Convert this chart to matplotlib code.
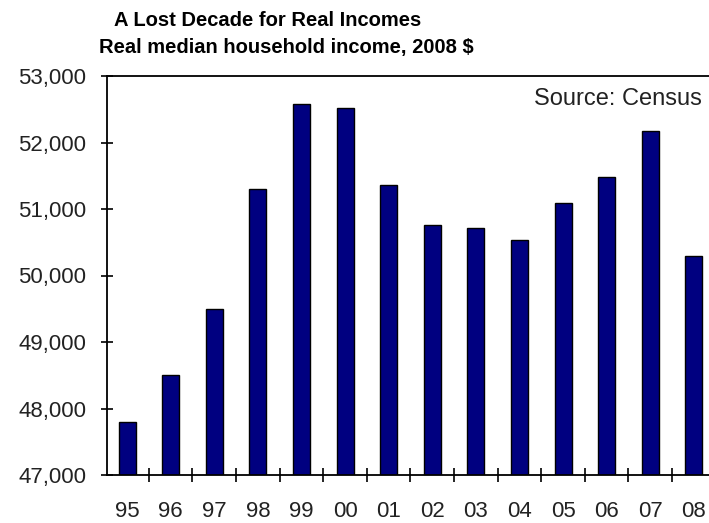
import numpy as np
import matplotlib
matplotlib.use("Agg")
import matplotlib.pyplot as plt
from matplotlib.ticker import FuncFormatter

years = ['95', '96', '97', '98', '99', '00', '01', '02', '03', '04', '05', '06', '07', '08']
income = [47800, 48500, 49500, 51300, 52580, 52520, 51360, 50760, 50710, 50540, 51090, 51480, 52180, 50300]
yticks = [47000, 48000, 49000, 50000, 51000, 52000, 53000]

W, H = 709, 523
fig = plt.figure(figsize=(W / 100, H / 100), dpi=100)
# plot area runs off the right edge in the original
ax = fig.add_axes([107 / W, 1 - 475 / H, 608.7 / W, (475 - 76) / H])

x = np.arange(len(years))
ax.bar(x, income, width=0.39, color='#000080', edgecolor='black', linewidth=1.0)

ax.set_xlim(-0.46, 13.5)
ax.set_ylim(47000, 53000)
ax.set_yticks(yticks)
ax.yaxis.set_major_formatter(FuncFormatter(lambda v, p: f'{int(v):,}'))
ax.set_xticks(x)
ax.set_xticklabels(years)
ax.set_xticks(np.arange(0.5, 13, 1), minor=True)

tick_font = 'Liberation Sans'
ax.tick_params(axis='y', direction='inout', length=8.6, width=1.2, pad=10.5,
               labelsize=16, colors='black')
ax.tick_params(axis='x', which='major', length=0, pad=19, labelsize=16)
ax.tick_params(axis='x', which='minor', direction='inout', length=10, width=1.2)
for lab in ax.get_xticklabels() + ax.get_yticklabels():
    lab.set_family(tick_font)
    lab.set_color('#222222')

for s in ['left', 'top', 'bottom']:
    ax.spines[s].set_linewidth(1.3)
ax.spines['right'].set_visible(False)

title_font = 'Liberation Sans'
fig.text(268 / W, 1 - 20 / H, 'A Lost Decade for Real Incomes', ha='center', va='center',
         fontsize=14.5, fontweight='bold', family=title_font)
fig.text(286 / W, 1 - 47 / H, 'Real median household income, 2008 $', ha='center', va='center',
         fontsize=14.5, fontweight='bold', family=title_font)
fig.text(702 / W, 1 - 99 / H, 'Source: Census', ha='right', va='center',
         fontsize=17, family=tick_font, color='#222222')

fig.savefig('out.png', dpi=100)
